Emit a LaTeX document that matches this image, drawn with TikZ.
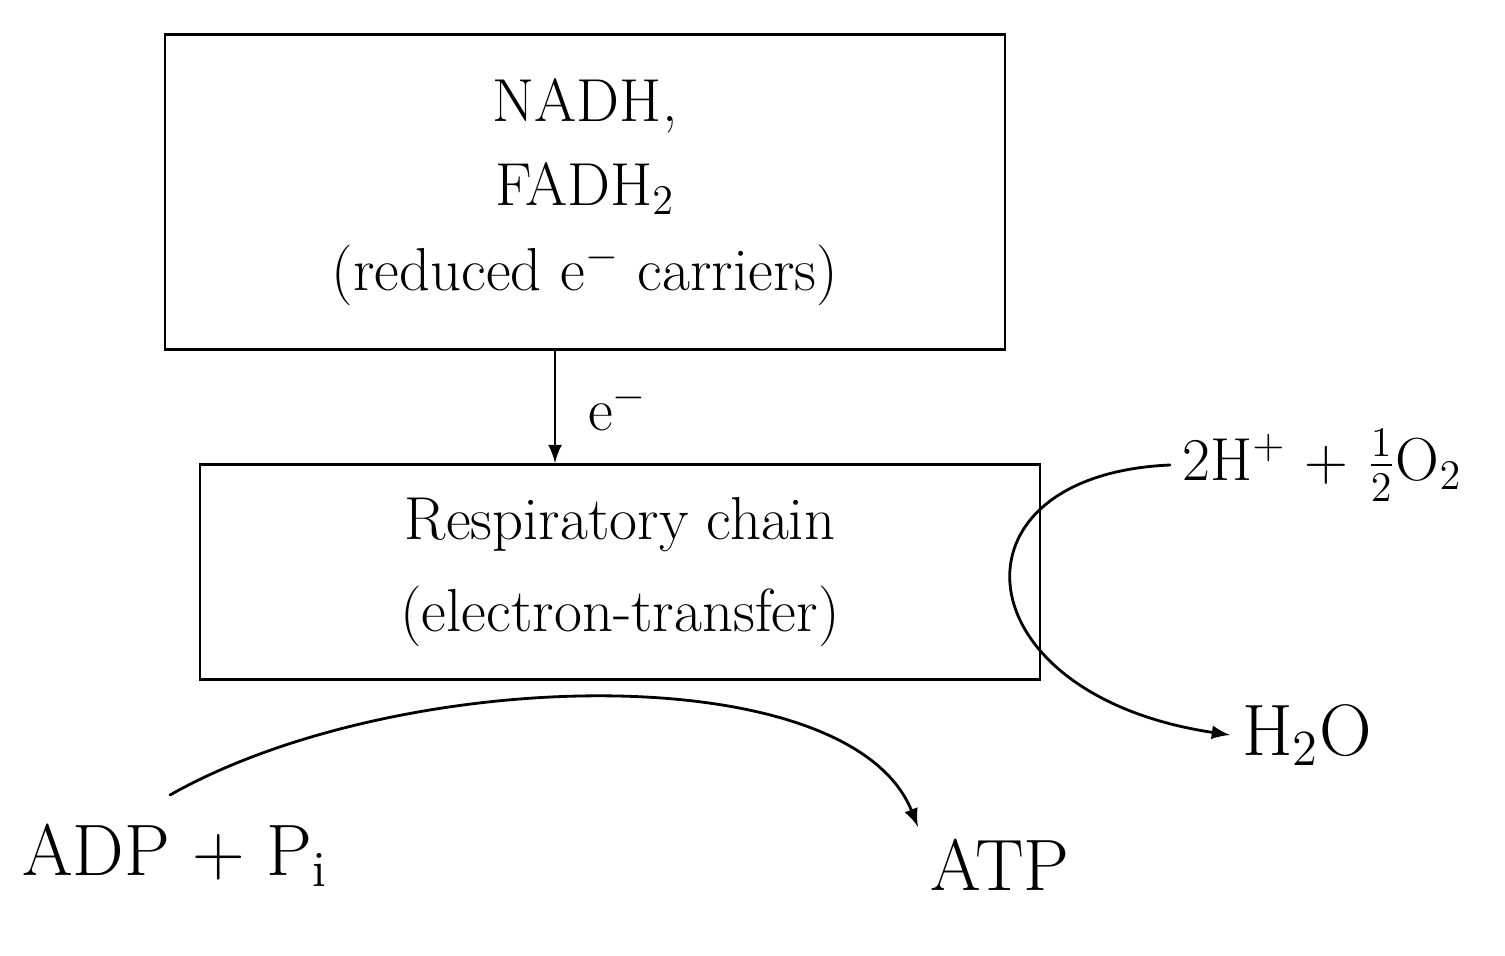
\documentclass[tikz,border=0pt]{standalone}
\usepackage{amsmath}
\usetikzlibrary{arrows.meta,positioning,calc}
\tikzset{>=latex}
\tikzset{
  box/.style={draw,thick,minimum width=8.4cm,align=center,inner sep=4pt},
  chem/.style={font=\huge},
  flow/.style={->,thick,line cap=round}
}

\begin{document}
\begin{tikzpicture}[font=\LARGE]
		\useasboundingbox (0,0) rectangle (15.05,9.55);

		\node[box,minimum height=3.15cm] (carriers) at (5.85,7.63) {NADH,\\[2pt] FADH$_2$\\[2pt] (reduced e$^-$ carriers)};
		\node[box,minimum height=2.15cm] (chain) at (6.2,3.83) {Respiratory chain\\[4pt] (electron-transfer)};

		\coordinate (etop) at ([xshift=-0.3cm]carriers.south);
		\draw[flow] (etop) -- node[right=0.2cm] {e$^-$} (etop |- chain.north);

		\node[font=\LARGE,right] (oxygen) at (11.7,4.9) {2H$^+$ + $\tfrac{1}{2}$O$_2$};
		\node[chem,right] (water) at (12.3,2.2) {H$_2$O};
		\draw[flow] (oxygen.west) .. controls (9.4,4.8) and (9.6,2.6) .. (water.west);

		\node[chem] (adp) at (1.75,1.0) {ADP + P$_\text{i}$};
		\node[chem] (atp) at (10.0,0.9) {ATP};
		\coordinate (adpstart) at (1.7,1.6);
		\draw[flow] (adpstart) .. controls (4.0,2.9) and (8.5,3.0) .. (atp.north west);
	\end{tikzpicture}
\end{document}
